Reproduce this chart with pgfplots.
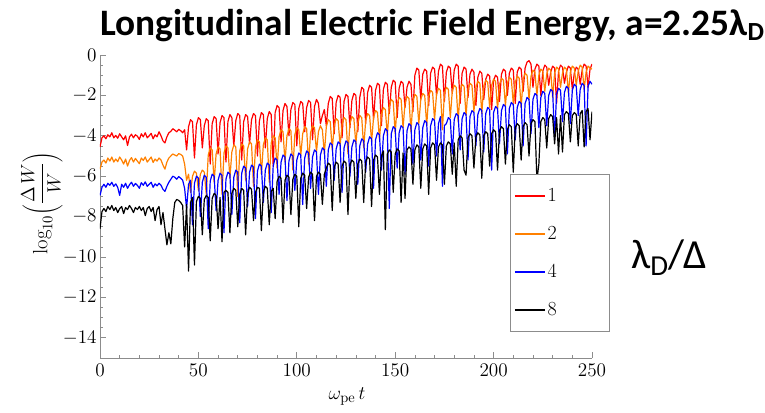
\documentclass[border=0pt]{standalone}
\usepackage{fontspec}
\usepackage{pgfplots}
\usepackage{pgfplotstable}
\pgfplotsset{compat=1.18}
\newfontfamily\calibri{Carlito}

\definecolor{seriesred}{rgb}{1,0,0}
\definecolor{seriesorange}{rgb}{1,0.5,0}
\definecolor{seriesblue}{rgb}{0,0,1}
\definecolor{seriesblack}{rgb}{0,0,0}
\definecolor{axisgray}{gray}{0.55}

% log10(dW/W) of the longitudinal field energy; columns: time, lambda_D/Delta = 1, 2, 4, 8
\pgfplotstableread{
t r o b k
0 -4.55 -5.65 -6.95 -8.60
1 -4.10 -5.30 -6.55 -7.75
2 -4.00 -5.20 -6.40 -7.60
3 -4.15 -5.35 -6.55 -7.75
4 -3.95 -5.10 -6.35 -7.50
5 -4.05 -5.25 -6.45 -7.65
6 -3.85 -5.05 -6.30 -7.45
7 -4.10 -5.30 -6.50 -7.70
8 -3.98 -5.15 -6.38 -7.55
9 -4.12 -5.28 -6.55 -7.80
10 -3.90 -5.05 -6.95 -7.60
11 -4.05 -5.20 -6.40 -7.50
12 -4.20 -5.40 -6.55 -7.85
13 -4.00 -5.15 -6.35 -7.55
14 -4.48 -5.50 -6.60 -7.65
15 -4.05 -5.22 -6.42 -7.45
16 -3.92 -5.08 -6.30 -7.60
17 -4.10 -5.30 -6.50 -7.80
18 -3.95 -5.12 -6.36 -7.55
19 -4.02 -5.25 -6.45 -7.65
20 -4.18 -5.38 -6.60 -7.50
21 -3.90 -5.10 -6.32 -7.70
22 -4.05 -5.22 -6.45 -7.55
23 -3.85 -5.05 -6.28 -7.95
24 -4.10 -5.30 -6.50 -7.60
25 -4.00 -5.18 -6.40 -7.50
26 -3.88 -5.05 -6.30 -7.75
27 -4.15 -5.32 -6.55 -7.55
28 -3.95 -5.15 -6.38 -8.20
29 -4.05 -5.25 -6.48 -7.65
30 -3.80 -5.10 -6.35 -7.50
31 -4.00 -5.20 -6.45 -8.40
32 -4.25 -5.45 -6.65 -7.80
33 -4.35 -5.65 -6.75 -8.60
34 -4.05 -5.30 -6.50 -9.40
35 -3.85 -5.10 -6.30 -8.80
36 -3.78 -5.00 -6.15 -9.35
37 -3.65 -4.90 -6.00 -8.10
38 -3.72 -4.95 -6.05 -7.30
39 -3.80 -5.00 -6.15 -7.15
40 -3.68 -4.88 -6.02 -7.20
41 -3.75 -4.92 -6.10 -7.30
42 -3.85 -5.00 -6.20 -7.45
43 -3.70 -5.40 -6.60 -9.50
44 -4.70 -6.20 -7.60 -7.40
45 -3.55 -5.90 -6.40 -10.70
46 -3.20 -6.80 -6.20 -7.30
47 -3.30 -6.00 -8.40 -7.05
48 -5.10 -5.75 -6.35 -10.40
49 -3.45 -5.85 -6.00 -7.25
50 -3.10 -6.70 -6.10 -7.00
51 -3.20 -5.90 -8.00 -7.10
52 -4.60 -5.70 -6.30 -8.90
53 -3.50 -5.80 -5.95 -7.15
54 -3.15 -6.90 -6.05 -6.95
55 -3.25 -4.95 -8.60 -7.05
56 -5.40 -4.60 -6.25 -9.20
57 -3.40 -4.70 -5.90 -7.10
58 -3.05 -6.30 -6.00 -6.85
59 -3.15 -4.90 -7.70 -6.95
60 -4.90 -4.55 -6.20 -8.60
61 -3.35 -4.65 -5.85 -7.05
62 -3.00 -6.90 -5.95 -9.25
63 -3.10 -4.85 -8.80 -6.80
64 -5.30 -4.50 -6.15 -6.70
65 -3.30 -4.60 -5.80 -6.80
66 -2.95 -6.10 -5.90 -8.80
67 -3.10 -4.80 -7.90 -6.85
68 -4.50 -4.45 -6.05 -6.60
69 -3.25 -4.55 -5.70 -6.70
70 -2.90 -7.00 -5.80 -8.50
71 -3.00 -4.75 -8.30 -6.90
72 -5.20 -4.40 -5.85 -6.60
73 -3.30 -4.50 -5.50 -6.70
74 -2.95 -6.20 -5.60 -8.90
75 -3.05 -4.65 -7.50 -6.85
76 -4.40 -4.30 -5.80 -6.55
77 -3.20 -4.40 -5.45 -6.65
78 -2.90 -6.50 -5.55 -8.20
79 -3.00 -4.55 -8.10 -6.80
80 -5.00 -4.20 -5.75 -6.55
81 -3.25 -4.30 -5.40 -6.60
82 -2.85 -5.90 -5.50 -8.70
83 -2.95 -4.45 -7.30 -6.80
84 -4.60 -4.10 -5.70 -6.50
85 -3.15 -4.20 -5.35 -6.60
86 -2.80 -6.30 -5.45 -8.40
87 -2.95 -4.35 -7.80 -6.75
88 -5.50 -4.00 -5.50 -6.60
89 -2.85 -4.10 -5.10 -8.10
90 -2.50 -5.60 -5.20 -6.25
91 -2.60 -4.05 -6.90 -6.00
92 -4.30 -3.70 -5.30 -6.10
93 -2.75 -3.80 -4.95 -8.30
94 -2.40 -5.30 -5.05 -6.20
95 -2.55 -4.00 -7.20 -5.95
96 -4.00 -3.65 -5.25 -6.05
97 -2.70 -3.75 -4.90 -7.90
98 -2.35 -5.70 -5.00 -6.15
99 -2.45 -3.95 -6.70 -5.90
100 -4.50 -3.60 -5.20 -6.00
101 -2.65 -3.70 -4.85 -8.50
102 -2.30 -5.00 -4.95 -6.10
103 -2.40 -3.90 -7.40 -5.85
104 -3.80 -3.55 -5.10 -5.95
105 -2.60 -3.65 -4.75 -7.60
106 -2.25 -5.40 -4.85 -6.05
107 -2.35 -3.85 -6.60 -5.80
108 -4.20 -3.50 -5.05 -5.90
109 -2.55 -3.60 -4.70 -8.20
110 -2.20 -4.80 -4.80 -6.00
111 -2.40 -3.80 -6.90 -5.80
112 -3.40 -3.50 -4.95 -5.90
113 -3.00 -3.70 -4.60 -7.40
114 -2.70 -4.90 -4.70 -5.90
115 -3.50 -3.55 -6.50 -5.60
116 -2.40 -3.20 -4.70 -5.35
117 -2.05 -3.30 -4.35 -5.45
118 -2.15 -4.70 -4.45 -7.70
119 -3.90 -3.50 -6.20 -5.55
120 -2.35 -3.15 -4.65 -5.30
121 -2.00 -3.25 -4.30 -5.40
122 -2.10 -4.50 -4.40 -7.30
123 -4.10 -3.45 -6.80 -5.50
124 -2.30 -3.10 -4.60 -5.25
125 -1.95 -3.20 -4.25 -5.35
126 -2.05 -4.90 -4.35 -7.90
127 -3.60 -3.40 -6.00 -5.45
128 -2.25 -3.05 -4.55 -5.20
129 -1.90 -3.15 -4.20 -5.30
130 -2.00 -4.40 -4.30 -7.10
131 -3.80 -3.35 -6.40 -5.40
132 -2.10 -3.00 -4.50 -5.15
133 -1.60 -3.10 -4.15 -5.25
134 -1.70 -4.60 -4.25 -7.30
135 -3.40 -3.25 -5.80 -5.30
136 -1.85 -2.90 -4.40 -5.05
137 -1.50 -3.00 -4.05 -5.15
138 -1.60 -4.30 -4.15 -7.50
139 -3.20 -3.10 -6.60 -5.20
140 -1.75 -2.75 -4.20 -4.95
141 -1.40 -2.85 -3.85 -5.05
142 -1.50 -4.20 -3.95 -6.90
143 -3.50 -2.95 -5.70 -5.00
144 -1.70 -2.60 -4.00 -4.75
145 -1.35 -2.70 -3.65 -8.65
146 -1.45 -4.00 -3.75 -4.90
147 -2.90 -2.55 -7.60 -4.70
148 -1.60 -2.20 -3.90 -4.80
149 -1.25 -2.30 -3.55 -6.80
150 -1.35 -3.90 -3.65 -4.90
151 -3.10 -2.45 -5.60 -4.65
152 -1.65 -2.10 -3.85 -4.75
153 -1.30 -2.20 -3.50 -7.30
154 -1.40 -3.60 -3.60 -4.85
155 -2.60 -2.40 -5.90 -7.10
156 -1.60 -2.05 -3.75 -4.70
157 -1.30 -2.15 -3.40 -4.55
158 -1.45 -3.80 -3.50 -4.65
159 -2.80 -2.30 -5.40 -6.40
160 -1.00 -1.95 -3.70 -4.70
161 -0.65 -2.05 -3.35 -4.45
162 -0.75 -3.40 -3.45 -4.55
163 -2.20 -2.20 -5.20 -6.60
164 -0.95 -1.90 -3.60 -4.65
165 -0.70 -2.00 -3.25 -4.40
166 -0.80 -3.50 -3.35 -4.50
167 -2.50 -2.05 -5.50 -6.90
168 -0.90 -1.75 -3.50 -4.60
169 -0.60 -1.85 -3.15 -4.35
170 -0.70 -3.20 -3.25 -4.45
171 -2.00 -1.95 -5.00 -6.20
172 -0.80 -1.65 -3.40 -4.55
173 -0.45 -1.75 -3.05 -4.35
174 -0.55 -3.70 -6.50 -4.45
175 -2.30 -1.90 -3.50 -6.40
176 -0.85 -1.60 -3.40 -4.50
177 -0.55 -1.70 -3.10 -4.30
178 -0.65 -3.10 -3.20 -4.40
179 -1.90 -1.80 -4.90 -5.90
180 -0.75 -1.50 -3.20 -4.35
181 -0.45 -1.60 -2.90 -6.50
182 -0.55 -3.30 -3.00 -4.20
183 -2.40 -1.75 -4.70 -4.00
184 -0.90 -1.45 -3.15 -4.10
185 -0.60 -1.55 -2.85 -5.70
186 -0.70 -3.00 -2.95 -5.95
187 -2.10 -1.70 -5.20 -4.10
188 -0.95 -1.40 -3.05 -3.90
189 -0.70 -1.50 -2.75 -4.00
190 -0.85 -2.80 -2.85 -5.60
191 -2.50 -1.60 -4.50 -4.05
192 -1.10 -1.30 -2.95 -3.85
193 -0.80 -1.40 -2.65 -3.95
194 -0.90 -2.90 -2.75 -6.10
195 -2.20 -1.55 -4.80 -4.00
196 -1.20 -1.25 -2.90 -3.80
197 -0.95 -1.35 -2.60 -3.90
198 -1.05 -2.60 -2.70 -5.50
199 -2.70 -1.50 -5.70 -3.90
200 -1.25 -1.20 -2.85 -3.70
201 -1.00 -1.30 -2.55 -3.80
202 -1.10 -2.70 -2.65 -5.70
203 -2.30 -1.45 -4.40 -3.75
204 -0.95 -1.15 -2.75 -3.55
205 -0.70 -1.25 -2.45 -3.65
206 -0.80 -2.50 -2.55 -5.40
207 -2.00 -1.40 -4.90 -3.70
208 -0.90 -1.10 -2.65 -3.45
209 -0.65 -1.20 -2.35 -3.55
210 -0.75 -2.40 -2.45 -5.80
211 -2.40 -1.35 -4.20 -3.60
212 -0.85 -1.05 -2.60 -3.40
213 -0.60 -1.15 -2.30 -3.50
214 -0.70 -2.60 -2.40 -5.20
215 -1.80 -1.20 -4.50 -3.55
216 -0.65 -0.90 -2.40 -3.35
217 -0.35 -1.00 -2.10 -3.45
218 -0.28 -2.20 -2.20 -5.00
219 -0.45 -1.05 -3.90 -3.40
220 -1.60 -0.75 -2.20 -3.20
221 -0.70 -0.85 -1.90 -3.30
222 -0.45 -2.00 -2.00 -6.20
223 -0.55 -1.00 -3.60 -5.40
224 -2.00 -0.70 -2.10 -3.30
225 -0.80 -0.80 -1.80 -3.10
226 -0.50 -1.80 -1.90 -3.20
227 -0.60 -0.95 -3.50 -4.60
228 -1.50 -0.65 -2.00 -3.15
229 -0.85 -0.75 -1.70 -2.95
230 -0.55 -2.10 -1.80 -3.05
231 -0.65 -0.90 -4.10 -4.40
232 -2.40 -0.60 -1.95 -3.10
233 -0.80 -0.70 -1.65 -4.90
234 -0.50 -1.60 -1.75 -3.00
235 -0.60 -0.90 -3.30 -4.80
236 -1.40 -0.60 -1.85 -2.95
237 -0.85 -0.70 -1.55 -2.80
238 -0.55 -1.90 -1.65 -2.90
239 -0.65 -0.85 -3.40 -4.30
240 -1.70 -0.55 -1.75 -3.00
241 -0.90 -0.65 -1.45 -2.85
242 -0.60 -1.50 -1.55 -2.95
243 -0.70 -0.80 -3.00 -4.50
244 -1.45 -0.50 -1.70 -2.90
245 -0.75 -0.60 -1.40 -2.75
246 -0.45 -1.70 -1.50 -4.55
247 -0.55 -0.85 -4.50 -2.80
248 -1.60 -0.55 -1.55 -2.65
249 -0.70 -0.65 -1.30 -4.20
250 -0.45 -0.70 -1.45 -2.80
}\fielddata

\begin{document}
\begin{tikzpicture}
\begin{axis}[
  scale only axis,
  width=369pt, height=227.25pt,
  xmin=0, xmax=250, ymin=-15, ymax=0,
  axis lines=left,
  axis line style={-, draw=axisgray, line width=0.6pt},
  every tick/.style={draw=axisgray, line width=0.5pt},
  tick align=inside,
  major tick length=4.5pt, minor tick length=2.5pt,
  xtick={0,50,...,250}, ytick={-14,-12,...,0},
  minor x tick num=4, minor y tick num=3,
  ticklabel style={font=\fontsize{15.5}{15.5}\selectfont},
  xticklabel style={yshift=-1pt},
  yticklabel style={xshift=1pt},
  xlabel={$\omega_{\mathrm{pe}}\,t$},
  xlabel style={at={(axis description cs:0.502,-0.1386)}, anchor=base, font=\fontsize{15.5}{15.5}\selectfont},
  ylabel={$\log_{10}\!\left(\displaystyle\frac{\Delta\,W}{W}\right)$},
  ylabel style={at={(axis description cs:-0.1179,0.5116)}, anchor=center, font=\fontsize{15.5}{15.5}\selectfont},
  legend cell align=left,
  legend image code/.code={\draw[#1] (0pt,0pt) -- (22.5pt,0pt);},
  legend style={
    at={(axis description cs:0.8333,0.607)}, anchor=north west,
    draw=axisgray, line width=0.6pt,
    font=\fontsize{15}{15}\selectfont,
    inner xsep=3pt, inner ysep=9pt, row sep=14pt,
    nodes={inner sep=1.5pt, text width=42pt}},
  every axis plot/.append style={line width=0.9pt, line join=round},
]
\addplot[draw=seriesred] table[x=t, y=r] {\fielddata};
\addlegendentry{1}
\addplot[draw=seriesorange] table[x=t, y=o] {\fielddata};
\addlegendentry{2}
\addplot[draw=seriesblue] table[x=t, y=b] {\fielddata};
\addlegendentry{4}
\addplot[draw=seriesblack] table[x=t, y=k] {\fielddata};
\addlegendentry{8}
\end{axis}
\node[anchor=base west, inner sep=0pt, font=\calibri\bfseries\fontsize{28}{28}\selectfont]
  at (0pt,242pt) {Longitudinal Electric Field Energy, a=2.25λ\textsubscript{D}};
\node[anchor=base, inner sep=0pt, font=\calibri\fontsize{31}{31}\selectfont]
  at (426.75pt,67.5pt) {λ\textsubscript{D}/Δ};
\pgfresetboundingbox
\useasboundingbox (-75pt,-40.5pt) rectangle (498.75pt,268.5pt);
\end{tikzpicture}
\end{document}
